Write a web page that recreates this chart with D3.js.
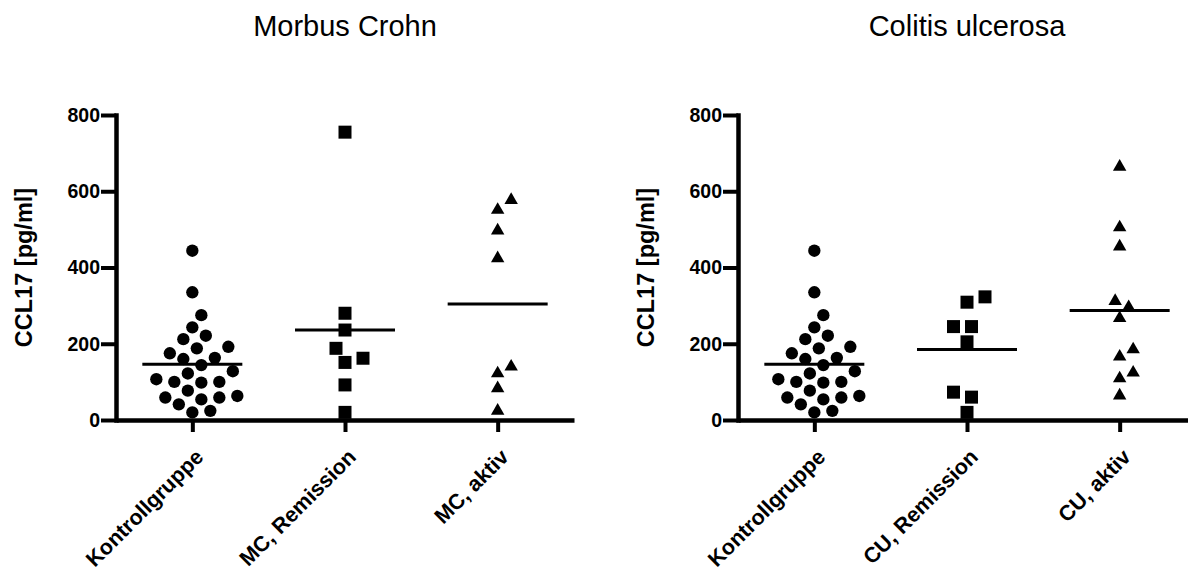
<!DOCTYPE html>
<meta charset="utf-8">
<head>
  <title>CCL17</title>
  <script src="https://d3js.org/d3.v7.min.js"></script>
  <style>
    body { margin: 0; background: #fff; }
    svg { display: block; font-family: Arial, "Liberation Sans", Helvetica, sans-serif; }
  </style>
</head>
<body>
<div id="chart"></div>
<script>

// values (pg/ml)
var kontrollgruppe = [444, 335, 275, 243, 221, 212, 192, 188, 175, 160, 163, 144, 128,
                      122, 100, 98, 100, 107, 77, 63, 59, 54, 59, 41, 20, 24];
var mcRemission = [755, 280, 236, 188, 162, 151, 92, 20];
var mcAktiv = [577, 551, 497, 424, 140, 122, 83, 24];
var cuRemission = [323, 309, 245, 245, 205, 73, 60, 20];
var cuAktiv = [664, 505, 455, 312, 296, 267, 185, 166, 124, 109, 64];

// horizontal lines drawn in each group
var mcLinien = [146, 236, 304];
var cuLinien = [146, 185, 287];

var mcKategorien = ["Kontrollgruppe", "MC, Remission", "MC, aktiv"];
var cuKategorien = ["Kontrollgruppe", "CU, Remission", "CU, aktiv"];
var yTicks = [0, 200, 400, 600, 800];

var panels = [
  { title: "Morbus Crohn", axisX: 116, cats: mcKategorien,
    groups: [kontrollgruppe, mcRemission, mcAktiv], lines: mcLinien },
  { title: "Colitis ulcerosa", axisX: 738, cats: cuKategorien,
    groups: [kontrollgruppe, cuRemission, cuAktiv], lines: cuLinien }
];

var W = 1188, H = 578;
var top0 = 115, bottom0 = 420, axisLen = 458;

var svg = d3.select("#chart").append("svg")
    .attr("width", W)
    .attr("height", H);

svg.append("rect").attr("width", W).attr("height", H).attr("fill", "#fff");

var y = d3.scaleLinear().domain([0, 800]).range([bottom0, top0]);

var shapes = [d3.symbolCircle, d3.symbolSquare, d3.symbolTriangle];
var sizes = [120, 169, 78];
var minDist = [14.5, 15.5, 13.5];

// simple beeswarm: bottom-up, nearest free offset from centre
function swarm(values, d, step) {
  var placed = [];
  var out = new Array(values.length);
  var order = values.map(function(v, i) { return i; })
    .sort(function(a, b) { return values[a] - values[b]; });
  order.forEach(function(i) {
    var py = y(values[i]);
    for (var k = 0; k < 400; k++) {
      var off = k === 0 ? 0 : (k % 2 === 1 ? 1 : -1) * Math.ceil(k / 2) * step;
      var ok = placed.every(function(p) {
        var dx = p.x - off, dy = p.y - py;
        return dx * dx + dy * dy >= d * d;
      });
      if (ok) { out[i] = off; placed.push({x: off, y: py}); break; }
    }
  });
  return out;
}

panels.forEach(function(p) {
  var x = d3.scalePoint()
    .domain(p.cats)
    .range([p.axisX, p.axisX + axisLen])
    .padding(0.5);

  var g = svg.append("g");

  // title
  g.append("text")
    .attr("x", x(p.cats[1]))
    .attr("y", 36)
    .attr("text-anchor", "middle")
    .style("font-size", "29px")
    .text(p.title);

  // y axis
  var ya = g.append("g")
    .attr("transform", "translate(" + p.axisX + ",0)")
    .call(d3.axisLeft(y).tickValues(yTicks).tickSize(15).tickSizeOuter(0).tickPadding(1));
  ya.select(".domain").attr("stroke-width", 4.5).attr("stroke-linecap", "square");
  ya.selectAll(".tick line").attr("stroke-width", 4);
  ya.selectAll(".tick text")
    .attr("fill", "#000")
    .style("font-size", "19.5px")
    .style("font-weight", "bold");

  g.append("text")
    .attr("transform", "translate(" + (p.axisX - 84) + "," + ((top0 + bottom0) / 2) + ")rotate(-90)")
    .attr("text-anchor", "middle")
    .style("font-size", "23.5px")
    .style("font-weight", "bold")
    .text("CCL17 [pg/ml]");

  // x axis
  var xa = g.append("g")
    .attr("transform", "translate(0," + bottom0 + ")")
    .call(d3.axisBottom(x).tickSize(12).tickSizeOuter(0));
  xa.select(".domain").attr("stroke-width", 4.5);
  xa.selectAll(".tick line").attr("stroke-width", 4);
  xa.selectAll(".tick text").remove();

  g.selectAll(".catlabel")
    .data(p.cats)
    .enter().append("text")
    .attr("transform", function(d) { return "translate(" + (x(d) + 7) + ",453)rotate(-45)"; })
    .attr("text-anchor", "end")
    .attr("dy", "0.35em")
    .style("font-size", "21.5px")
    .style("font-weight", "bold")
    .text(function(d) { return d; });

  // points
  p.groups.forEach(function(vals, gi) {
    var cx = x(p.cats[gi]);
    var offs = swarm(vals, minDist[gi], 4.5);
    var sym = d3.symbol().type(shapes[gi]).size(sizes[gi]);
    g.selectAll(".pt" + gi)
      .data(vals)
      .enter().append("path")
      .attr("d", sym)
      .attr("transform", function(d, i) {
        return "translate(" + (cx + offs[i]) + "," + y(d) + ")";
      })
      .attr("fill", "#000");

    g.append("line")
      .attr("x1", cx - 50)
      .attr("x2", cx + 50)
      .attr("y1", y(p.lines[gi]))
      .attr("y2", y(p.lines[gi]))
      .attr("stroke", "#000")
      .attr("stroke-width", 3);
  });
});

</script>
</body>
